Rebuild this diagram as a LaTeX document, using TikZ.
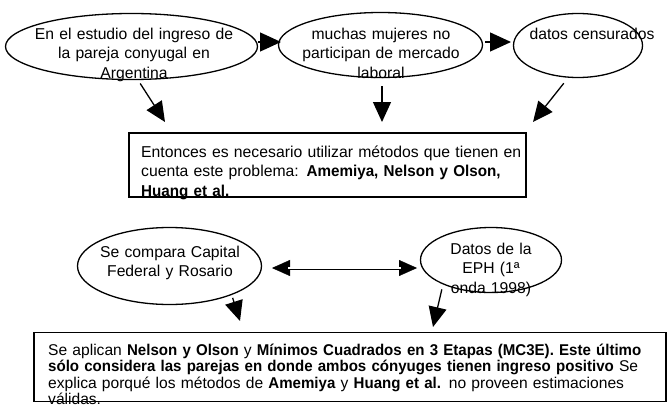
\documentclass[tikz,border=0pt]{standalone}
\usepackage{fontspec}
\setmainfont{Liberation Sans}[BoldFeatures={FakeStretch=0.965}]
\usetikzlibrary{arrows.meta,shapes.geometric}
\begin{document}
\begin{tikzpicture}[x=1pt,y=-1pt,
  ell/.style={draw, ellipse, line width=1.3pt, inner sep=0pt},
  boxst/.style={draw, rectangle, line width=1.9pt, inner sep=0pt},
  ctxt/.style={inner sep=0pt, anchor=base, align=center, text width=#1,
    font=\fontsize{15.7}{19.4}\selectfont},
  arr/.style={line width=1.3pt, -{Triangle[length=20pt,width=18pt]}},
  harr/.style={line width=1.3pt, -{Triangle[length=21pt,width=19pt]}},
  dtip/.style={line width=0.4pt, {Triangle[length=18pt,width=16pt]}-{Triangle[length=18pt,width=16pt]}},
  dline/.style={line width=0.8pt, double, double distance=1.4pt}
]
\useasboundingbox (0,0) rectangle (669,412);

% texts
\node[ctxt=260pt] (te1) at (134,39.5) {En el estudio del ingreso de\\la pareja conyugal en\\Argentina};
\node[ctxt=220pt] (te2) at (381,39.5) {muchas mujeres no\\participan de mercado\\laboral};
\node[ctxt=150pt] (te3) at (592,39.5) {datos censurados};
\node[ctxt=200pt] (te4) at (170,257.5) {Se compara Capital\\Federal y Rosario};
\node[ctxt=150pt] (te5) at (491,254.5) {Datos de la\\EPH (1ª\\onda 1998)};
\node[inner sep=0pt, anchor=base west, align=left, text width=420pt,
  font=\fontsize{15.75}{19.4}\selectfont] (tb1) at (141,157.5)
  {Entonces es necesario utilizar métodos que tienen en\\
   cuenta este problema: \textbf{Amemiya, Nelson y Olson,}\\
   \textbf{Huang et al.}};
\node[inner sep=0pt, anchor=base west, align=left, text width=640pt,
  font=\fontsize{15.6}{16.6}\selectfont] (tb2) at (48,355)
  {Se aplican \textbf{Nelson y Olson} y \textbf{Mínimos Cuadrados en 3 Etapas (MC3E). Este último}\\
   \textbf{sólo considera las parejas en donde ambos cónyuges tienen ingreso positivo} Se\\
   explica porqué los métodos de \textbf{Amemiya} y \textbf{Huang et al.} no proveen estimaciones\\
   válidas.};

% shapes
\node[ell, minimum width=252pt, minimum height=66pt] (e1) at (131.5,46.5) {};
\node[ell, minimum width=204pt, minimum height=65pt] (e2) at (380.5,45) {};
\node[ell, minimum width=129pt, minimum height=64pt] (e3) at (578,45.5) {};
\node[ell, minimum width=184pt, minimum height=77pt] (e4) at (169.5,266) {};
\node[ell, minimum width=141pt, minimum height=65pt] (e5) at (491,260) {};
\node[boxst, minimum width=397pt, minimum height=64pt] (b1) at (327.5,165) {};
\node[boxst, minimum width=632pt, minimum height=69pt] (b2) at (350,367) {};

% free ends
\coordinate (t12) at (281,42);
\coordinate (t23) at (511,42);
\coordinate (t1) at (165,122);
\coordinate (t2) at (382,122);
\coordinate (t3) at (533,122);
\coordinate (t4) at (240,321);
\coordinate (t5) at (433,327);
\coordinate (dl) at (272,268);
\coordinate (dr) at (417,268);

% connectors
\draw[harr] (e1.east |- t12) -- (t12);
\draw[harr] ([xshift=2pt]e2.east |- t23) -- (t23);
\draw[arr, shorten <=4pt] (e1.-79) -- (t1);
\draw[arr, shorten <=8pt] (t2 |- e2.south) -- (t2);
\draw[arr, shorten <=7pt] (e3.-107) -- (t3);
\draw[arr, shorten <=3pt] (e4.-25) -- (t4);
\draw[arr, shorten <=5pt] (e5.-153) -- (t5);
\draw[dtip] (dl) -- (dr);
\draw[dline, shorten <=16pt, shorten >=16pt] (dl) -- (dr);
\end{tikzpicture}
\end{document}
